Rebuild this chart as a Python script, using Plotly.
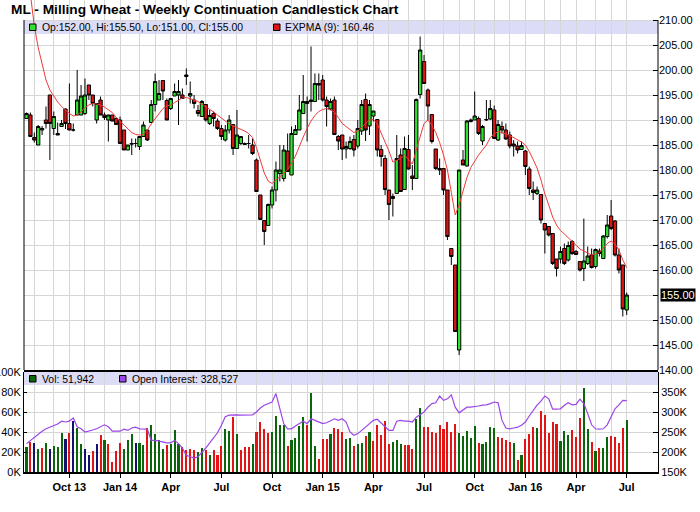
import pandas as pd
import plotly.graph_objects as go

title_text = "ML - Milling Wheat - Weekly Continuation Candlestick Chart"

open_ = [190.3, 191, 186.5, 185, 188, 190, 195, 188.3, 187.3, 188.7,
         192.2, 189.3, 188, 191, 191, 191.3, 197, 195, 190, 194,
         191, 190, 191, 190.3, 190, 188, 184, 185.3, 185.3, 184.7,
         186.7, 188, 189.5, 193.1, 194, 197.9, 193.9, 192.3, 194.8, 195,
         195, 198.7, 194.8, 194, 191.9, 190.7, 193.1, 189.3, 191.3, 189.8,
         188.3, 186, 188, 189.1, 184.3, 185.3, 185.1, 185.3, 185, 182,
         175, 169.9, 168.9, 173, 176, 179.3, 178.3, 183.8, 179, 187.1,
         188, 191.3, 193.3, 193.7, 193.7, 197.3, 198, 194, 192.2, 194,
         186.7, 187, 184.2, 184.3, 186.1, 184.8, 187.8, 194.1, 188.8, 190.8,
         190.1, 184.1, 182.3, 176, 174.3, 175.3, 183, 176.1, 184.1, 178.8,
         178.3, 195.1, 201.7, 196, 191.1, 184.2, 180.3, 180.3, 176, 164.3,
         161, 144, 182, 180.8, 189.7, 190, 190.3, 185.8, 190, 190.2,
         192, 186, 188.7, 188, 187, 185.2, 184.8, 184.1, 183.8, 180.2,
         176, 175.3, 175.1, 169.3, 168.7, 167.3, 162.2, 162.2, 164.3, 162,
         165.7, 163.7, 161.7, 160.3, 161.3, 163, 160.7, 163.8, 162.3, 166.7,
         170.8, 169.8, 163, 161, 152]
high = [191.5, 191.5, 187.5, 189, 188.8, 192.7, 195, 191.7, 189.5, 190,
        192.3, 197.3, 189.3, 200, 197, 198.3, 197, 195, 193.3, 194.7,
        191.5, 191, 191, 190.5, 190.7, 188, 185, 186.3, 186.3, 186.7,
        189.7, 188, 194, 199.3, 198, 197.9, 194.3, 194.3, 197.3, 198,
        196.3, 200.3, 197.7, 195, 193, 194, 193.1, 192, 191.7, 190.3,
        189, 189, 191, 189.1, 192, 186.7, 185.5, 187, 186.3, 182.3,
        175, 169.9, 173.3, 176.7, 181.7, 185, 185, 187.3, 188.7, 189,
        195, 199, 194.7, 204.7, 199.3, 199.3, 199, 194.7, 194.3, 194.7,
        187, 187, 185.7, 186.7, 187, 190, 194, 195.3, 194, 191.8,
        190.1, 185, 183, 176, 175.3, 187, 184.3, 186.7, 187, 181,
        194.3, 206.7, 203, 196.3, 191.1, 184.2, 182.3, 180.3, 176, 164.3,
        161, 180, 184, 190, 190.3, 195.7, 190.7, 189, 194, 194,
        192.9, 190, 189.7, 189.3, 187.7, 186, 185.7, 185.7, 184, 180.7,
        177.7, 176.7, 175.1, 169.3, 168.7, 167.3, 162.2, 164.7, 165.3, 165.7,
        166, 164, 161.7, 170.3, 164.7, 164.3, 164.3, 164.3, 167, 171,
        174, 170, 164.3, 161, 155.5]
low = [190.3, 186.7, 185.5, 185, 187, 188.3, 182, 187, 187, 188.7,
       188.2, 188, 187.7, 191, 191, 191, 194, 192.7, 189.3, 191,
       190, 185.7, 189.7, 189, 185.3, 184, 184, 183, 184.5, 184,
       186.7, 185.8, 189.5, 191.7, 194, 194, 190, 192, 194.8, 189,
       194.3, 197, 193.3, 192.3, 190.7, 190.7, 189.7, 189, 188.7, 188,
       186, 185.7, 187.3, 183, 184.3, 185, 185, 184.3, 183, 175.7,
       170, 165, 168.9, 172.3, 173.7, 177.7, 177.7, 179.7, 179, 187,
       188, 191.3, 185.7, 191.7, 193.7, 194, 193.7, 188.7, 192, 187,
       184, 182, 182.3, 184, 182.7, 184.3, 187, 185.8, 187, 189.7,
       182.7, 180.7, 175, 170, 170.7, 175.3, 175.7, 176, 180.1, 176,
       178.3, 194.3, 197.3, 190, 185.3, 180, 179, 175, 166, 161,
       147.7, 143, 181, 180.7, 189.5, 190, 187, 185, 189.8, 190,
       186.3, 185.8, 187.3, 186, 184.3, 182.7, 183.3, 184, 179, 175,
       174, 175, 169.3, 163.3, 166.7, 161, 158.7, 161.3, 161, 161.7,
       163, 163, 159.7, 157.8, 161, 160.3, 160.3, 162.7, 162.2, 166.3,
       168, 162.7, 159.3, 150.7, 151]
close = [191.3, 186.7, 186, 188.7, 188.3, 189.3, 189.3, 190.7, 187, 189.3,
         189.3, 188, 188, 194, 194.8, 195, 195, 193.3, 193.3, 191,
         190.5, 191, 189.8, 189.1, 185.3, 184, 185, 185.2, 185.3, 186.7,
         189, 186, 193.1, 197.7, 195.3, 195.8, 190, 194.3, 195.7, 195.7,
         194.3, 199, 195.3, 193.3, 191.3, 193.7, 190, 190.9, 190.3, 188.3,
         186.7, 188, 190, 184.3, 187, 186.7, 185.3, 185.3, 183.3, 175.7,
         170.1, 167.7, 173.1, 176, 180, 180, 184, 179.7, 187.3, 188.1,
         192, 193.7, 193.7, 194, 197.3, 197, 194, 192.7, 193.7, 187.1,
         185.8, 184.2, 184.7, 185.7, 184, 188.3, 193.1, 188, 193.1, 191.8,
         184, 182.7, 176.1, 173.1, 174.7, 182.3, 175.7, 184.3, 180.2, 178.3,
         194.1, 204, 197.3, 192.8, 185.7, 180.3, 180, 176, 166.7, 162.7,
         147.7, 180, 181, 189.8, 190, 190.8, 187.3, 188.7, 190.1, 192.3,
         186.3, 189.1, 188, 186.2, 184.8, 184.8, 184, 184.9, 180.7, 176.3,
         175.5, 176, 170, 168, 167, 161.3, 160.3, 163.7, 161.3, 164.9,
         163.3, 163.1, 160, 161.8, 162.8, 160.5, 164.1, 163.3, 166.8, 169,
         168.3, 163, 160, 152.2, 155]
expma9 = [221.5, 214.5, 208.8, 204.5, 201, 198, 196, 194.7, 193.6, 192.7,
          191.9, 191.3, 190.8, 191, 191.6, 192.5, 193, 193.3, 193.2, 193,
          192.6, 192.1, 191.5, 190.5, 189.7, 188.9, 188.1, 187.5, 187.1, 187,
          187.1, 188, 189.2, 190.2, 191.2, 192.3, 192.8, 193, 193.5, 193.9,
          194.4, 194.5, 194.3, 194, 193.7, 193.2, 192.7, 192.1, 191.6, 191,
          190.4, 189.8, 189.2, 188.8, 188.5, 188.2, 187.8, 187.3, 186.5, 184.5,
          182, 179.4, 177.8, 177.3, 178, 178.6, 179.3, 180.1, 181.3, 182.8,
          184.8, 186.6, 188.3, 189.8, 190.9, 191.7, 192.1, 192.3, 192, 191.6,
          190.5, 189.3, 188.7, 188.1, 187.5, 187.8, 188.6, 189.2, 190, 190.1,
          189.2, 187.4, 185.6, 183.8, 181.6, 181.9, 182.3, 183, 182, 181.2,
          184, 186.8, 189.3, 190, 189, 187.5, 185.5, 183, 180, 175.5,
          171, 173, 175.8, 178.5, 180.5, 181.9, 183, 184, 185, 186.5,
          187.2, 187.7, 187.5, 187.2, 186.9, 186.5, 186.1, 185.6, 185, 183.7,
          182.1, 180.4, 178, 175.2, 173, 170.6, 169, 167.9, 167.2, 166.4,
          165.6, 164.8, 164.2, 163.8, 163.4, 163, 163.2, 163.5, 164.4, 165.3,
          165.8, 165.2, 164, 162, 160.46]
volume_k = [25, 30, 29, 23.3, 24, 29.3, 23.3, 26, 25, 39,
            33.3, 39, 51, 44, 28.3, 23.3, 17.3, 21, 28.3, 37.3,
            32.3, 28.3, 10, 21, 29, 22.7, 32.3, 38.3, 29, 29,
            26.7, 44, 47.3, 38.3, 31.7, 23.3, 26.7, 28.3, 41.7, 28.3,
            25, 22.3, 22.7, 21.7, 20, 24, 21.7, 17.3, 21.7, 17.3,
            26, 42.7, 40.7, 55, 38.3, 21.7, 25, 25, 28.3, 40,
            50, 42.7, 39, 40, 56, 46.7, 47.3, 26, 31.7, 34,
            46, 55, 47.3, 79, 26, 12.7, 33.3, 33.3, 38.3, 44,
            42.7, 40, 32.7, 34, 26, 28.3, 29.3, 36, 40, 31,
            47.3, 37.3, 51, 28.3, 30, 31.7, 28.3, 27.3, 26.7, 23.3,
            53.3, 64, 45, 45, 40, 39, 47.3, 43.3, 50, 40,
            48, 39.3, 35.7, 41, 34, 46, 29, 28.3, 30, 45,
            44, 35, 34, 31.7, 30, 29.3, 12.3, 17.3, 33.3, 38.3,
            45, 44, 60.7, 57.3, 39, 50, 48.3, 31, 40.7, 37.3,
            41.7, 35, 54, 84.3, 42.7, 30, 21, 24, 24, 35,
            36, 35, 29, 44, 51.942]
volume_dir = list("grngrgnggg" "nrnggnnrnr" "grrrrgggng" "grggggrggg"
                  "rrrrggrgrr" "rggrgrrrgr" "rrrggggrgg" "ggrggrrrgr"
                  "r" "rggrggrgrr" "rrrgggrrrg" "grrrrrrrrr" "gggggrgggg"
                  "rrrrgrgrrr" "grrrrrgggr" "rrggrgrggr" "rrrg")
open_interest_k = [221, 229, 237, 246, 252, 258, 262, 265, 270, 277,
                   275, 277, 285, 263, 258, 250, 252, 255, 258, 262,
                   268, 263, 252, 252, 252, 257, 254, 260, 262, 258,
                   258, 257, 229, 229, 227, 225, 223, 223, 229, 221,
                   210, 192, 188, 185, 188, 198, 210, 223, 235, 248,
                   267, 288, 292, 293, 293, 292, 292, 292, 293, 300,
                   310, 317, 321, 325, 346, 308, 271, 258, 258, 265,
                   271, 277, 271, 283, 279, 275, 271, 273, 279, 283,
                   279, 283, 275, 250, 242, 246, 254, 262, 269, 279,
                   282, 273, 262, 254, 254, 277, 279, 277, 277, 275,
                   287, 293, 300, 312, 321, 323, 340, 329, 333, 343,
                   312, 298, 304, 312, 312, 313, 315, 317, 318, 321,
                   325, 323, 279, 260, 258, 260, 262, 267, 275, 290,
                   304, 317, 327, 340, 333, 307, 307, 308, 317, 323,
                   318, 319, 332, 321, 296, 268, 258, 257, 258, 268,
                   288, 308, 318, 329, 328.527]
quarter_labels = ["Oct 13", "Jan 14", "Apr", "Jul", "Oct", "Jan 15",
                  "Apr", "Jul", "Oct", "Jan 16", "Apr", "Jul"]
price_ticks = [140, 145, 150, 155, 160, 165, 170, 175, 180, 185, 190, 195, 200, 205, 210]
vol_ticks = [0, 20, 40, 60, 80, 100]
oi_ticks = [150, 200, 250, 300, 350]

dates = pd.date_range(end="2016-07-01", periods=len(close), freq="7D")
month_first = [d for d in dates if d.day <= 7]
quarter_first = [d for d in month_first if d.month in (1, 4, 7, 10)]

FONT = "Liberation Sans, Arial, sans-serif"
GRID = "#d6d6d6"
W, H = 700, 512
ML, MR, MT, MB = 24, 42, 0, 40
PW, PH = W - ML - MR, H - MT - MB


def pxx(px):
    return (px - ML) / PW


def pxy(py):
    return 1 - (py - MT) / PH


vol_cmap = {"g": "#0b650b", "r": "#e31414", "n": "#12126e"}
GREEN = "#2fe02f"
RED = "#dc1414"

fig = go.Figure()
fig.add_trace(go.Candlestick(
    x=dates, open=open_, high=high, low=low, close=close,
    increasing=dict(line=dict(color="#000000", width=1), fillcolor=GREEN),
    decreasing=dict(line=dict(color="#000000", width=1), fillcolor=RED),
    whiskerwidth=0, xaxis="x", yaxis="y", showlegend=False, hoverinfo="skip"))
fig.add_trace(go.Scatter(
    x=dates, y=expma9, mode="lines", line=dict(color="#ef3a3a", width=1),
    xaxis="x", yaxis="y", showlegend=False, hoverinfo="skip"))
fig.add_trace(go.Bar(
    x=dates, y=volume_k, marker=dict(color=[vol_cmap[c] for c in volume_dir], line=dict(width=0)),
    width=3.8 * 86400000, xaxis="x2", yaxis="y2", showlegend=False, hoverinfo="skip"))
fig.add_trace(go.Scatter(
    x=dates, y=open_interest_k, mode="lines", line=dict(color="#9b46e6", width=1.2),
    xaxis="x2", yaxis="y3", showlegend=False, hoverinfo="skip"))

xrange = ["2013-07-14 12:00", "2016-08-26 05:00"]
tickfont = dict(family=FONT, size=11, color="#000000")
main_bottom = pxy(370)
vol_top = pxy(372)
last_close = close[-1]

fig.update_layout(
    width=W, height=H, margin=dict(l=ML, r=MR, t=MT, b=MB, autoexpand=False),
    paper_bgcolor="#ffffff", plot_bgcolor="#ffffff",
    font=dict(family=FONT, size=11, color="#000000"),
    showlegend=False, boxgap=0.15, boxgroupgap=0, bargap=0,
    xaxis=dict(type="date", range=xrange, domain=[0, 1], anchor="y", automargin=False,
               rangeslider=dict(visible=False), showticklabels=False,
               tickvals=quarter_first, ticks="", showgrid=True, gridcolor=GRID,
               minor=dict(tickvals=month_first, showgrid=True, gridcolor=GRID, ticks=""),
               showline=True, linecolor="#000000", linewidth=2, zeroline=False),
    yaxis=dict(domain=[main_bottom, 1], range=[140, 214], side="right", anchor="x",
               automargin=False,
               tickvals=price_ticks,
               ticktext=["" if v == last_close else f"{v:.2f}" for v in price_ticks],
               ticks="inside", ticklen=5, tickcolor="#000000", tickfont=tickfont,
               showgrid=True, gridcolor=GRID, zeroline=False, showline=False),
    xaxis2=dict(type="date", range=xrange, domain=[0, 1], anchor="y2", automargin=False,
                tickvals=quarter_first, ticktext=[f"<b>{t}</b>" for t in quarter_labels],
                ticks="outside", ticklen=4, tickcolor="#000000", tickfont=tickfont,
                showgrid=True, gridcolor=GRID,
                minor=dict(tickvals=month_first, showgrid=True, gridcolor=GRID, ticks=""),
                showline=True, linecolor="#000000", linewidth=2, zeroline=False),
    yaxis2=dict(domain=[0, vol_top], range=[0, 100], side="left", anchor="x2",
                automargin=False,
                tickvals=vol_ticks, ticktext=[f"{v}K" for v in vol_ticks],
                ticks="inside", ticklen=3, tickcolor="#000000", tickfont=tickfont,
                showgrid=True, gridcolor=GRID, zeroline=False,
                showline=True, linecolor="#000000", linewidth=1),
    yaxis3=dict(range=[150, 400], overlaying="y2", side="right", anchor="x2",
                automargin=False,
                tickvals=oi_ticks, ticktext=[f"{v}K" for v in oi_ticks],
                ticks="inside", ticklen=5, tickcolor="#000000", tickfont=tickfont,
                showgrid=False, zeroline=False,
                showline=True, linecolor="#000000", linewidth=1),
)

shapes = [
    dict(type="rect", xref="paper", yref="y", x0=0, x1=1, y0=210, y1=215,
         fillcolor="#ffffff", line=dict(width=0), layer="below"),
    dict(type="rect", xref="paper", yref="y", x0=0, x1=1, y0=207.2, y1=210,
         fillcolor="#dcdcf6", line=dict(width=0), layer="below"),
    dict(type="line", xref="paper", yref="y", x0=0, x1=0, y0=140, y1=210,
         line=dict(color="#000000", width=1)),
    dict(type="line", xref="paper", yref="y", x0=1, x1=1, y0=140, y1=210,
         line=dict(color="#000000", width=1)),
    dict(type="rect", xref="paper", yref="y2", x0=0, x1=1, y0=87, y1=100,
         fillcolor="#dcdcf6", line=dict(width=0), layer="below"),
    dict(type="rect", xref="paper", yref="paper", x0=pxx(29.5), x1=pxx(36), y0=pxy(30.5), y1=pxy(24),
         fillcolor=GREEN, line=dict(color="#000000", width=1)),
    dict(type="rect", xref="paper", yref="paper", x0=pxx(273.5), x1=pxx(280), y0=pxy(30.5), y1=pxy(24),
         fillcolor=RED, line=dict(color="#000000", width=1)),
    dict(type="rect", xref="paper", yref="paper", x0=pxx(29.5), x1=pxx(36), y0=pxy(382), y1=pxy(375.5),
         fillcolor="#0b650b", line=dict(color="#000000", width=1)),
    dict(type="rect", xref="paper", yref="paper", x0=pxx(119.5), x1=pxx(126), y0=pxy(382), y1=pxy(375.5),
         fillcolor="#9b46e6", line=dict(color="#000000", width=1)),
]


def note(text, x, y, size=10.4, **kw):
    return dict(text=text, xref="paper", yref="paper", x=pxx(x), y=pxy(y),
                xanchor="left", yanchor="middle", showarrow=False,
                font=dict(family=FONT, size=size, color="#000000"), **kw)


legend_ohlc = f"Op:{open_[-1]:.2f}, Hi:{high[-1]:.2f}, Lo:{low[-1]:.2f}, Cl:{close[-1]:.2f}"
annotations = [
    note(f"<b>{title_text}</b>", 9, 10, size=13.7),
    note(legend_ohlc, 40, 27.5),
    note(f"EXPMA (9): {expma9[-1]:.2f}", 283, 27.5),
    note(f"Vol: {round(volume_k[-1] * 1000):,}", 40, 379),
    note(f"Open Interest: {round(open_interest_k[-1] * 1000):,}", 130, 379),
    dict(text=f"{last_close:.2f}", xref="paper", yref="y", x=1, y=last_close,
         xanchor="left", yanchor="middle", xshift=2, showarrow=False,
         bgcolor="#000000", borderpad=0,
         font=dict(family=FONT, size=11, color="#ffffff")),
]
fig.update_layout(shapes=shapes, annotations=annotations)

fig.write_html("out.html")
